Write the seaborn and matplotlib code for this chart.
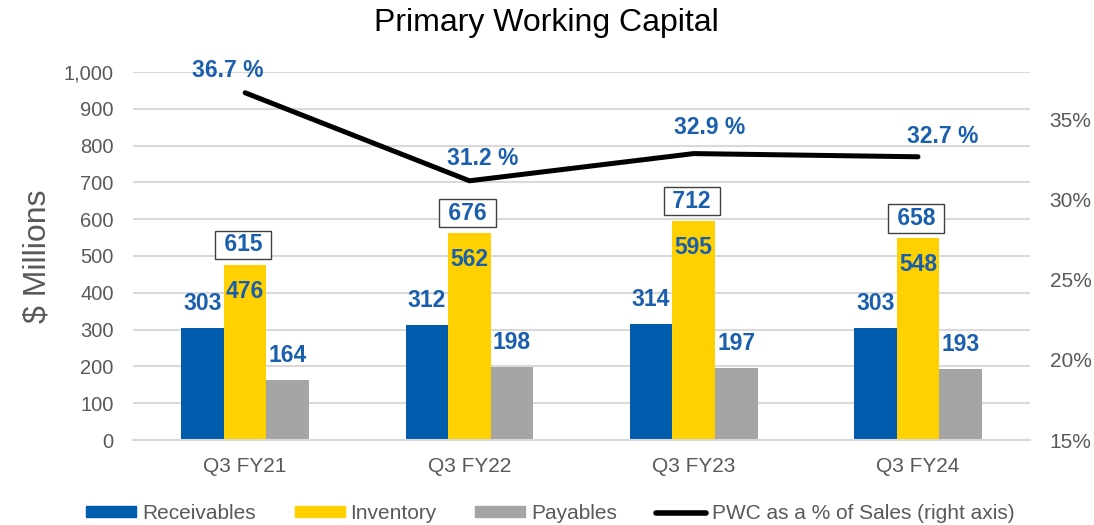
import numpy as np
import pandas as pd
import matplotlib.pyplot as plt
import seaborn as sns
from matplotlib.patches import Patch
from matplotlib.lines import Line2D

# Data
kvartaler = ["Q3 FY21", "Q3 FY22", "Q3 FY23", "Q3 FY24"]
receivables = [303, 312, 314, 303]
inventory = [476, 562, 595, 548]
payables = [164, 198, 197, 193]
totaler = [615, 676, 712, 658]
pwc_pct = [36.7, 31.2, 32.9, 32.7]

blaa = "#005BAC"
gul = "#FFD100"
graa = "#A5A5A5"
tekstblaa = "#1A5FAD"
akse_graa = "#595959"

sns.set_theme(style="white")
plt.rcParams["font.family"] = ["Liberation Sans", "DejaVu Sans"]

# Long format for seaborn
serier = ["Receivables", "Inventory", "Payables"]
rader = []
for i, k in enumerate(kvartaler):
    rader.append((k, "Receivables", receivables[i]))
    rader.append((k, "Inventory", inventory[i]))
    rader.append((k, "Payables", payables[i]))
df = pd.DataFrame(rader, columns=["Kvartal", "Serie", "Verdi"])

fig = plt.figure(figsize=(10.94, 5.25), dpi=100)
ax = fig.add_axes([0.1216, 0.1619, 0.82, 0.701])

sns.barplot(data=df, x="Kvartal", y="Verdi", hue="Serie", hue_order=serier,
            order=kvartaler, palette=[blaa, gul, graa], width=0.57,
            saturation=1, errorbar=None, ax=ax, legend=False, linewidth=0)

ax.set_xlim(-0.5, 3.5)
ax.set_ylim(0, 1000)
ax.set_yticks(np.arange(0, 1001, 100))
ax.set_yticklabels([f"{v:,}" for v in range(0, 1001, 100)])
ax.grid(axis="y", color="#D9D9D9", linewidth=1.5)
ax.set_axisbelow(True)
for s in ["top", "left", "right"]:
    ax.spines[s].set_visible(False)
ax.spines["bottom"].set_color("#D9D9D9")
ax.spines["bottom"].set_linewidth(1.5)
ax.tick_params(axis="y", length=0, pad=14, labelsize=14.5, labelcolor=akse_graa)
ax.tick_params(axis="x", length=0, pad=12, labelsize=15, labelcolor=akse_graa)
ax.set_xlabel("")
ax.set_ylabel("$ Millions", fontsize=23, color=akse_graa, labelpad=8)

# Data labels
x = np.arange(len(kvartaler))
bw = 0.19
for i in range(len(kvartaler)):
    ax.annotate(str(receivables[i]), (x[i] - bw, receivables[i]), xytext=(0, 13),
                textcoords="offset pixels", ha="center", va="bottom",
                fontsize=16.5, fontweight="bold", color=tekstblaa)
    ax.annotate(str(inventory[i]), (x[i], inventory[i]), xytext=(0, -15),
                textcoords="offset pixels", ha="center", va="top",
                fontsize=16.5, fontweight="bold", color=tekstblaa)
    ax.annotate(str(payables[i]), (x[i] + bw, payables[i]), xytext=(0, 13),
                textcoords="offset pixels", ha="center", va="bottom",
                fontsize=16.5, fontweight="bold", color=tekstblaa)
    ax.annotate(f" {totaler[i]} ", (x[i], inventory[i]), xytext=(-2, 20),
                textcoords="offset pixels", ha="center", va="center",
                fontsize=16.5, fontweight="bold", color=tekstblaa,
                bbox=dict(boxstyle="square,pad=0.12", fc="white", ec="#404040", lw=1))

# PWC line on the right axis
ax2 = ax.twinx()
sns.lineplot(x=x, y=pwc_pct, ax=ax2, color="black", linewidth=3.6,
             solid_capstyle="round", solid_joinstyle="round")
ax2.set_ylim(15, 38)
ax2.set_yticks([15, 20, 25, 30, 35])
ax2.set_yticklabels([f"{v}%" for v in [15, 20, 25, 30, 35]])
ax2.tick_params(axis="y", length=0, pad=14, labelsize=15, labelcolor=akse_graa)
for s in ax2.spines.values():
    s.set_visible(False)
ax2.grid(False)

pct_dx = [-17, 13, 16, 25]
pct_dy = [11, 11, 15, 9]
for i in range(len(kvartaler)):
    ax2.annotate(f"{pwc_pct[i]} %", (x[i], pwc_pct[i]),
                 xytext=(pct_dx[i], pct_dy[i]), textcoords="offset pixels",
                 ha="center", va="bottom", fontsize=16.5, fontweight="bold",
                 color=tekstblaa)

fig.text(0.499, 1 - 31 / 525, "Primary Working Capital", fontsize=23,
         color="black", ha="center", va="baseline")

handles = [Patch(color=blaa), Patch(color=gul), Patch(color=graa),
           Line2D([0], [0], color="black", linewidth=4, solid_capstyle="round")]
navn = ["Receivables", "Inventory", "Payables", "PWC as a % of Sales (right axis)"]
fig.legend(handles, navn, loc="center", bbox_to_anchor=(0.503, 0.022), ncol=4,
           frameon=False, fontsize=15, handlelength=2.4, handleheight=0.42,
           handletextpad=0.28, columnspacing=1.86, labelcolor=akse_graa)

fig.savefig("out.png", dpi=100)
